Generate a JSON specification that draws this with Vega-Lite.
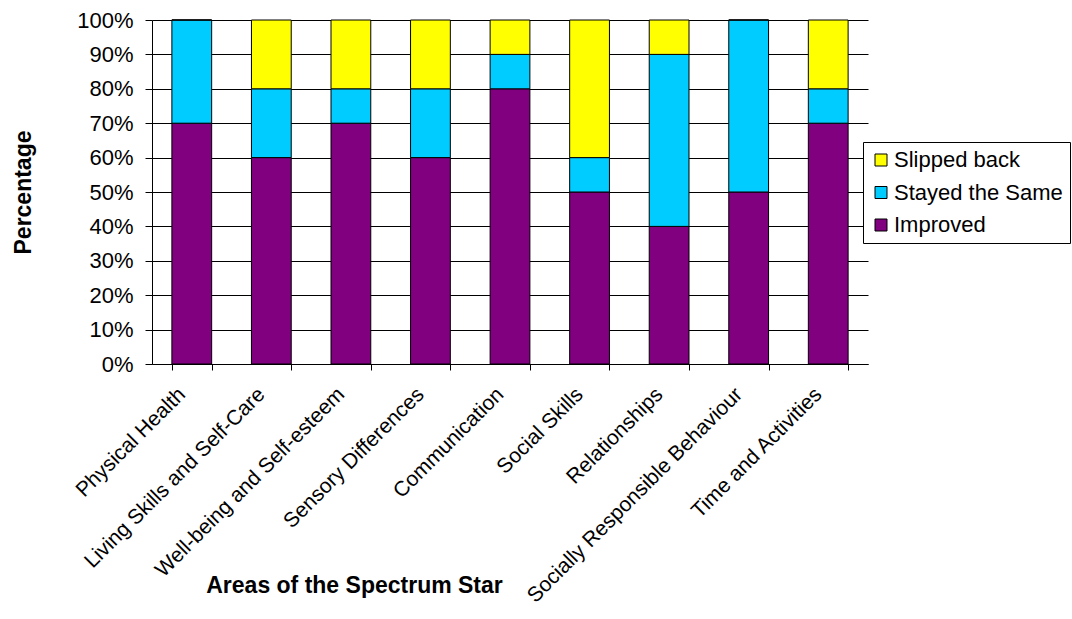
{
  "$schema": "https://vega.github.io/schema/vega-lite/v6.json",
  "width": 716,
  "height": 344,
  "autosize": "none",
  "padding": {"left": 152, "top": 20, "right": 204, "bottom": 255},
  "background": "white",
  "config": {
    "view": {"stroke": null},
    "font": "Liberation Sans"
  },
  "data": {
    "values": [
      {"area": "Physical Health", "status": "Improved", "ord": 1, "value": 0.7},
      {"area": "Physical Health", "status": "Stayed the Same", "ord": 2, "value": 0.3},
      {"area": "Physical Health", "status": "Slipped back", "ord": 3, "value": 0.0},
      {"area": "Living Skills and Self-Care", "status": "Improved", "ord": 1, "value": 0.6},
      {"area": "Living Skills and Self-Care", "status": "Stayed the Same", "ord": 2, "value": 0.2},
      {"area": "Living Skills and Self-Care", "status": "Slipped back", "ord": 3, "value": 0.2},
      {"area": "Well-being and Self-esteem", "status": "Improved", "ord": 1, "value": 0.7},
      {"area": "Well-being and Self-esteem", "status": "Stayed the Same", "ord": 2, "value": 0.1},
      {"area": "Well-being and Self-esteem", "status": "Slipped back", "ord": 3, "value": 0.2},
      {"area": "Sensory Differences", "status": "Improved", "ord": 1, "value": 0.6},
      {"area": "Sensory Differences", "status": "Stayed the Same", "ord": 2, "value": 0.2},
      {"area": "Sensory Differences", "status": "Slipped back", "ord": 3, "value": 0.2},
      {"area": "Communication", "status": "Improved", "ord": 1, "value": 0.8},
      {"area": "Communication", "status": "Stayed the Same", "ord": 2, "value": 0.1},
      {"area": "Communication", "status": "Slipped back", "ord": 3, "value": 0.1},
      {"area": "Social Skills", "status": "Improved", "ord": 1, "value": 0.5},
      {"area": "Social Skills", "status": "Stayed the Same", "ord": 2, "value": 0.1},
      {"area": "Social Skills", "status": "Slipped back", "ord": 3, "value": 0.4},
      {"area": "Relationships", "status": "Improved", "ord": 1, "value": 0.4},
      {"area": "Relationships", "status": "Stayed the Same", "ord": 2, "value": 0.5},
      {"area": "Relationships", "status": "Slipped back", "ord": 3, "value": 0.1},
      {"area": "Socially Responsible Behaviour", "status": "Improved", "ord": 1, "value": 0.5},
      {"area": "Socially Responsible Behaviour", "status": "Stayed the Same", "ord": 2, "value": 0.5},
      {"area": "Socially Responsible Behaviour", "status": "Slipped back", "ord": 3, "value": 0.0},
      {"area": "Time and Activities", "status": "Improved", "ord": 1, "value": 0.7},
      {"area": "Time and Activities", "status": "Stayed the Same", "ord": 2, "value": 0.1},
      {"area": "Time and Activities", "status": "Slipped back", "ord": 3, "value": 0.2}
    ]
  },
  "mark": {"type": "bar", "stroke": "black", "strokeWidth": 1},
  "encoding": {
    "x": {
      "field": "area",
      "type": "nominal",
      "sort": null,
      "scale": {"paddingInner": 0.5, "paddingOuter": 0.25},
      "axis": {
        "title": "Areas of the Spectrum Star",
        "titleFontSize": 23,
        "titleFontWeight": "bold",
        "titleColor": "black",
        "titleX": 202,
        "titleY": 228,
        "titleBaseline": "alphabetic",
        "titleAnchor": "middle",
        "labelAngle": -45,
        "labelAlign": "right",
        "labelBaseline": "middle",
        "labelFontSize": 21,
        "labelColor": "black",
        "labelPadding": 21,
        "labelOffset": -10,
        "labelLimit": 0,
        "labelOverlap": false,
        "domainColor": "black",
        "domainWidth": 1,
        "tickColor": "black",
        "tickSize": 6,
        "tickBand": "extent",
        "grid": false
      }
    },
    "y": {
      "field": "value",
      "type": "quantitative",
      "stack": "zero",
      "scale": {"domain": [0, 1], "nice": false},
      "axis": {
        "title": "Percentage",
        "titleFontSize": 23,
        "titleFontWeight": "bold",
        "titleColor": "black",
        "titleX": -129,
        "titleY": 172,
        "titleBaseline": "middle",
        "titleAnchor": "middle",
        "values": [0, 0.1, 0.2, 0.3, 0.4, 0.5, 0.6, 0.7, 0.8, 0.9, 1.0],
        "format": ".0%",
        "labelFontSize": 22,
        "labelColor": "black",
        "labelPadding": 12,
        "labelOverlap": false,
        "domainColor": "black",
        "tickColor": "black",
        "tickSize": 7,
        "grid": true,
        "gridColor": "black",
        "gridOpacity": 1,
        "gridWidth": 1
      }
    },
    "color": {
      "field": "status",
      "type": "nominal",
      "scale": {
        "domain": ["Slipped back", "Stayed the Same", "Improved"],
        "range": ["#FFFF00", "#00CCFF", "#800080"]
      },
      "legend": {
        "title": null,
        "orient": "none",
        "legendX": 711,
        "legendY": 122,
        "strokeColor": "black",
        "fillColor": "white",
        "padding": 7,
        "symbolType": "square",
        "symbolSize": 144,
        "symbolStrokeColor": "black",
        "symbolStrokeWidth": 1,
        "symbolOpacity": 1,
        "labelFontSize": 22,
        "labelColor": "black",
        "labelLimit": 0,
        "rowPadding": 10.5,
        "labelOffset": 2
      }
    },
    "order": {"field": "ord", "type": "quantitative"}
  }
}
